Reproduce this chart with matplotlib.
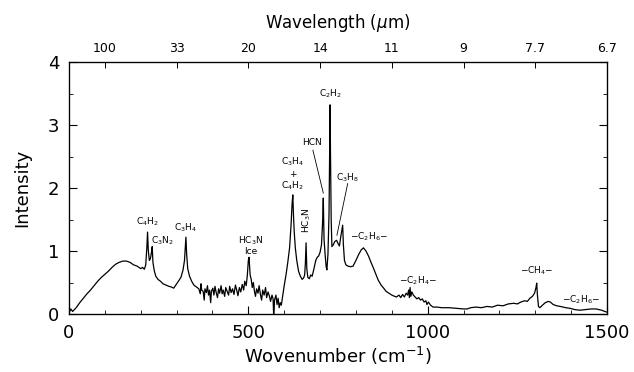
import matplotlib
matplotlib.use("Agg")
import matplotlib.pyplot as plt
import numpy as np

# Spectrum (wavenumber cm^-1, intensity)
wavenumber = [0, 5, 10, 20, 30, 40, 50, 60, 70, 80, 90, 100, 110, 120, 130, 140, 150, 160, 170, 180,
              190, 195, 200, 205, 210, 214, 217, 219, 221, 224, 227, 230, 232, 234, 238, 242, 248, 255,
              262, 270, 278, 285, 292, 298, 305, 312, 318, 322, 324, 326, 328, 331, 336, 342, 348, 355,
              362, 366, 368, 370, 374, 377, 379, 383, 386, 389, 392, 395, 397, 401, 404, 407, 410, 414,
              417, 420, 424, 427, 430, 434, 437, 441, 445, 448, 452, 456, 460, 464, 468, 471, 475, 479,
              483, 487, 490, 494, 497, 500, 502, 505, 508, 511, 514, 517, 520, 523, 527, 530, 534, 537,
              540, 544, 548, 551, 555, 559, 562, 566, 569, 571, 573, 577, 580, 583, 586, 589, 592, 596,
              600, 605, 610, 615, 619, 622, 624, 626, 628, 631, 635, 640, 645, 650, 654, 657, 659, 661,
              663, 666, 670, 674, 678, 683, 688, 692, 696, 700, 704, 707, 709, 711, 714, 717, 719, 722,
              725, 727, 728, 729, 731, 733, 737, 741, 746, 750, 754, 757, 760, 763, 765, 768, 772, 778,
              785, 792, 800, 808, 815, 821, 828, 835, 842, 848, 855, 862, 870, 876, 884, 892, 900, 908,
              913, 920, 925, 930, 935, 940, 944, 947, 949, 951, 953, 956, 960, 965, 970, 975, 980, 985,
              990, 995, 998, 1002, 1008, 1015, 1025, 1040, 1060, 1080, 1100, 1110, 1120, 1135, 1150,
              1165, 1180, 1195, 1210, 1225, 1240, 1250, 1260, 1270, 1278, 1285, 1292, 1298, 1302, 1304,
              1306, 1309, 1313, 1320, 1328, 1336, 1342, 1350, 1360, 1370, 1385, 1397, 1410, 1425, 1440,
              1455, 1470, 1485, 1494, 1500]
intensity = [0.02, 0.08, 0.04, 0.10, 0.18, 0.25, 0.32, 0.38, 0.45, 0.52, 0.58, 0.63, 0.68, 0.74, 0.79,
             0.82, 0.84, 0.84, 0.82, 0.78, 0.76, 0.74, 0.72, 0.74, 0.71, 0.78, 1.05, 1.30, 1.02, 0.85,
             0.88, 0.98, 1.07, 0.82, 0.68, 0.60, 0.55, 0.52, 0.48, 0.46, 0.44, 0.43, 0.41, 0.46, 0.52,
             0.58, 0.70, 0.85, 1.05, 1.22, 0.95, 0.72, 0.60, 0.52, 0.46, 0.43, 0.40, 0.32, 0.48, 0.38,
             0.36, 0.22, 0.40, 0.34, 0.45, 0.30, 0.38, 0.18, 0.36, 0.41, 0.30, 0.44, 0.35, 0.26, 0.40,
             0.33, 0.45, 0.32, 0.38, 0.28, 0.42, 0.36, 0.30, 0.44, 0.34, 0.40, 0.31, 0.46, 0.37, 0.29,
             0.42, 0.35, 0.47, 0.38, 0.52, 0.45, 0.60, 0.85, 0.90, 0.62, 0.55, 0.42, 0.50, 0.36, 0.28,
             0.40, 0.33, 0.45, 0.30, 0.22, 0.38, 0.30, 0.42, 0.26, 0.35, 0.28, 0.20, 0.30, 0.24, -0.08,
             0.22, 0.30, 0.15, 0.25, 0.10, 0.18, 0.14, 0.30, 0.45, 0.62, 0.82, 1.05, 1.40, 1.75, 1.89,
             1.55, 1.30, 1.05, 0.85, 0.68, 0.60, 0.55, 0.57, 0.62, 0.80, 1.13, 0.72, 0.58, 0.56, 0.62,
             0.60, 0.72, 0.85, 0.90, 0.92, 0.98, 1.10, 1.45, 1.84, 1.20, 0.95, 0.75, 0.70, 0.95, 1.60,
             2.80, 3.32, 2.60, 1.50, 1.07, 1.10, 1.15, 1.17, 1.12, 1.08, 1.20, 1.30, 1.41, 1.10, 0.85,
             0.78, 0.76, 0.75, 0.76, 0.85, 0.95, 1.02, 1.05, 1.00, 0.92, 0.82, 0.74, 0.64, 0.54, 0.46,
             0.42, 0.36, 0.33, 0.30, 0.28, 0.27, 0.30, 0.26, 0.31, 0.27, 0.33, 0.30, 0.38, 0.26, 0.42,
             0.28, 0.35, 0.30, 0.27, 0.24, 0.26, 0.22, 0.24, 0.19, 0.21, 0.15, 0.19, 0.14, 0.11, 0.11,
             0.10, 0.10, 0.09, 0.08, 0.08, 0.10, 0.11, 0.10, 0.12, 0.11, 0.14, 0.13, 0.16, 0.17, 0.16,
             0.19, 0.21, 0.20, 0.25, 0.28, 0.33, 0.42, 0.49, 0.30, 0.12, 0.10, 0.14, 0.18, 0.20, 0.19,
             0.15, 0.13, 0.12, 0.10, 0.09, 0.07, 0.06, 0.07, 0.08, 0.08, 0.06, 0.04, 0.03]

# Top axis: wavelength labels at wavenumber positions
top_tick_wn = [100, 300, 500, 700, 900, 1100, 1300, 1500]
top_tick_labels = ['100', '33', '20', '14', '11', '9', '7.7', '6.7']

# Annotations: (label, x, y)
labels = [r'C$_4$H$_2$', r'C$_3$N$_2$', r'C$_3$H$_4$', 'HC$_3$N', 'Ice',
          r'C$_3$H$_4$', '+', r'C$_4$H$_2$', r'C$_2$H$_2$', 'HCN', r'C$_3$H$_8$',
          r'$-$C$_2$H$_6$$-$', r'$-$C$_2$H$_4$$-$', r'$-$CH$_4$$-$', r'$-$C$_2$H$_6$$-$']
label_x = [220, 261, 326, 506, 506, 624, 624, 624, 728, 678, 777, 836, 973, 1304, 1427]
label_y = [1.46, 1.16, 1.37, 1.17, 1.00, 2.41, 2.21, 2.03, 3.49, 2.73, 2.16, 1.22, 0.52, 0.68, 0.22]

fig = plt.figure(figsize=(6.34, 3.72), dpi=100)
ax = fig.add_axes([69/634, 58/372, (607-69)/634, (314-62)/372])
ax.plot(wavenumber, intensity, color='black', lw=0.9)
ax.set_xlim(0, 1500)
ax.set_ylim(0, 4)
ax.set_xticks([0, 500, 1000, 1500])
ax.set_xticks(np.arange(0, 1501, 100), minor=True)
ax.set_yticks([0, 1, 2, 3, 4])
ax.set_yticks(np.arange(0, 4.01, 0.5), minor=True)
ax.tick_params(which='both', direction='in', top=False, right=True, labelsize=13)
ax.tick_params(which='major', length=6, width=0.8)
ax.tick_params(which='minor', length=3, width=0.6)
ax.tick_params(axis='x', pad=7)
ax.tick_params(axis='y', pad=7)
ax.set_xlabel(r'Wovenumber (cm$^{-1}$)', fontsize=13, labelpad=2)
ax.set_ylabel('Intensity', fontsize=13, labelpad=12)

for s in ax.spines.values():
    s.set_linewidth(0.9)

ax2 = ax.twiny()
ax2.set_xlim(0, 1500)
ax2.set_xticks(top_tick_wn)
ax2.set_xticklabels(top_tick_labels, fontsize=9)
ax2.tick_params(direction='in', length=4, width=0.7, pad=5)
ax2.set_xlabel(r'Wavelength ($\mu$m)', fontsize=12, labelpad=10)

for t, x, y in zip(labels, label_x, label_y):
    ax.text(x, y, t, fontsize=6.5, ha='center', va='center')
ax.text(664, 1.49, 'HC$_3$N', fontsize=6.5, ha='center', va='center', rotation=90)
ax.plot([680, 709], [2.60, 1.92], color='black', lw=0.6)
ax.plot([777, 747], [2.07, 1.25], color='black', lw=0.6)

fig.savefig('out.png', dpi=100)
